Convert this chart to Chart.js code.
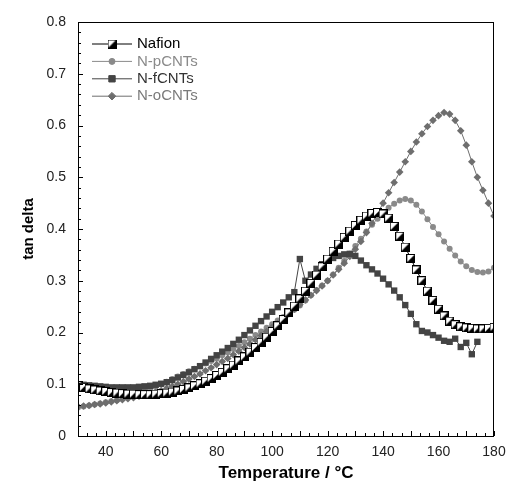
<!DOCTYPE html>
<html>
<head>
<meta charset="utf-8">
<script src="https://cdn.jsdelivr.net/npm/chart.js@4/dist/chart.umd.min.js"></script>
<style>
  html, body { margin: 0; padding: 0; background: #fff; }
  #wrap { width: 506px; height: 487px; }
</style>
</head>
<body>
<div id="wrap"><canvas id="dmaChart" width="506" height="487"></canvas></div>
<script>
// temperatures (°C), shared by all series
const temps = [30, 32, 34, 36, 38, 40, 42, 44, 46, 48, 50, 52, 54, 56, 58, 60, 62, 64, 66, 68,
    70, 72, 74, 76, 78, 80, 82, 84, 86, 88, 90, 92, 94, 96, 98, 100, 102, 104, 106, 108,
    110, 112, 114, 116, 118, 120, 122, 124, 126, 128, 130, 132, 134, 136, 138, 140, 142, 144, 146, 148,
    150, 152, 154, 156, 158, 160, 162, 164, 166, 168, 170, 172, 174, 176, 178, 180];

const nafion = [0.097, 0.094, 0.091, 0.089, 0.087, 0.086, 0.084, 0.083, 0.082, 0.081, 0.081, 0.080, 0.080, 0.080, 0.081, 0.082, 0.083, 0.085, 0.087, 0.090,
    0.093, 0.097, 0.101, 0.106, 0.111, 0.117, 0.123, 0.130, 0.137, 0.145, 0.153, 0.162, 0.171, 0.181, 0.191, 0.202, 0.213, 0.225, 0.238, 0.251,
    0.265, 0.280, 0.295, 0.311, 0.327, 0.342, 0.357, 0.371, 0.384, 0.396, 0.407, 0.417, 0.425, 0.430, 0.432, 0.429, 0.421, 0.405, 0.386, 0.365,
    0.343, 0.321, 0.300, 0.280, 0.262, 0.245, 0.232, 0.222, 0.215, 0.211, 0.209, 0.208, 0.207, 0.207, 0.208, 0.210];

const nPCNT = [0.055, 0.057, 0.059, 0.061, 0.063, 0.065, 0.067, 0.069, 0.072, 0.075, 0.078, 0.082, 0.086, 0.090, 0.095, 0.100, 0.105, 0.110, 0.115, 0.120,
    0.125, 0.130, 0.135, 0.140, 0.145, 0.150, 0.156, 0.162, 0.168, 0.174, 0.181, 0.188, 0.195, 0.202, 0.209, 0.216, 0.223, 0.230, 0.237, 0.244,
    0.252, 0.262, 0.272, 0.282, 0.291, 0.300, 0.312, 0.325, 0.338, 0.352, 0.367, 0.381, 0.395, 0.408, 0.420, 0.431, 0.441, 0.449, 0.455, 0.458,
    0.455, 0.447, 0.434, 0.419, 0.404, 0.390, 0.376, 0.362, 0.349, 0.337, 0.328, 0.321, 0.317, 0.316, 0.318, 0.325];

const nFCNT = [0.100, 0.099, 0.098, 0.097, 0.096, 0.095, 0.094, 0.094, 0.094, 0.094, 0.094, 0.095, 0.096, 0.097, 0.099, 0.101, 0.104, 0.108, 0.113, 0.118,
    0.123, 0.129, 0.135, 0.142, 0.149, 0.156, 0.163, 0.170, 0.178, 0.186, 0.195, 0.204, 0.213, 0.222, 0.231, 0.240, 0.249, 0.258, 0.268, 0.278,
    0.342, 0.300, 0.312, 0.323, 0.332, 0.339, 0.344, 0.348, 0.351, 0.352, 0.348, 0.339, 0.330, 0.322, 0.314, 0.304, 0.293, 0.281, 0.268, 0.253,
    0.236, 0.216, 0.203, 0.200, 0.195, 0.190, 0.184, 0.182, 0.188, 0.172, 0.180, 0.158, 0.182, null, null, null];

const nOCNT = [0.057, 0.058, 0.059, 0.061, 0.062, 0.064, 0.066, 0.068, 0.070, 0.072, 0.074, 0.077, 0.079, 0.082, 0.085, 0.088, 0.092, 0.096, 0.100, 0.105,
    0.110, 0.115, 0.120, 0.126, 0.132, 0.138, 0.144, 0.150, 0.157, 0.164, 0.171, 0.178, 0.186, 0.194, 0.202, 0.210, 0.218, 0.227, 0.236, 0.245,
    0.254, 0.263, 0.272, 0.281, 0.290, 0.300, 0.311, 0.322, 0.334, 0.347, 0.361, 0.376, 0.393, 0.411, 0.430, 0.450, 0.470, 0.490, 0.510, 0.530,
    0.550, 0.568, 0.584, 0.598, 0.610, 0.619, 0.625, 0.622, 0.610, 0.590, 0.562, 0.530, 0.500, 0.475, 0.450, 0.425];

const seriesNames = ['Nafion', 'N-pCNTs', 'N-fCNTs', 'N-oCNTs'];
const xTicks = [40, 60, 80, 100, 120, 140, 160, 180];
const yTicks = [0, 0.1, 0.2, 0.3, 0.4, 0.5, 0.6, 0.7, 0.8];

const FONT = "'Liberation Sans', Arial, sans-serif";

// half filled square used by Nafion
function halfSquare(size) {
    const c = document.createElement('canvas');
    c.width = size; c.height = size;
    const g = c.getContext('2d');
    g.fillStyle = '#fff';
    g.fillRect(0, 0, size, size);
    g.fillStyle = '#000';
    g.beginPath();
    g.moveTo(size, 0);
    g.lineTo(size, size);
    g.lineTo(0, size);
    g.closePath();
    g.fill();
    g.strokeStyle = '#000';
    g.lineWidth = 1;
    g.strokeRect(0.5, 0.5, size - 1, size - 1);
    return c;
}
const nafionMark = halfSquare(9);

function pts(ys) {
    return temps.map((t, i) => ({ x: t, y: ys[i] }));
}

// frame + inward ticks like the original plot
const frameTicks = {
    id: 'frameTicks',
    afterDatasetsDraw(chart) {
        const { ctx, chartArea: a, scales } = chart;
        ctx.save();
        ctx.strokeStyle = '#000';
        ctx.lineWidth = 1;
        ctx.strokeRect(a.left + 0.5, a.top + 0.5, a.right - a.left - 1, a.bottom - a.top);
        ctx.beginPath();
        for (let i = 0; i <= 45; i++) {
            const px = Math.round(scales.x.getPixelForValue(30 + i * 10 / 3)) + 0.5;
            const len = i % 3 === 0 ? 5 : 3;
            ctx.moveTo(px, a.bottom);
            ctx.lineTo(px, a.bottom - len);
        }
        for (let i = 0; i <= 40; i++) {
            const py = Math.round(scales.y.getPixelForValue(i * 0.02)) + 0.5;
            const len = i % 5 === 0 ? 5 : 3;
            ctx.moveTo(a.left, py);
            ctx.lineTo(a.left + len, py);
        }
        ctx.stroke();
        ctx.restore();
    }
};

// legend: short line with marker in the middle
const lineLegend = {
    id: 'lineLegend',
    afterDraw(chart) {
        const { ctx } = chart;
        const textColors = ['#000', '#8a8a8a', '#333', '#7a7a7a'];
        ctx.save();
        ctx.font = '15px ' + FONT;
        ctx.textBaseline = 'middle';
        chart.data.datasets.forEach((ds, i) => {
            const y = 44 + i * 17.4;
            ctx.strokeStyle = ds.borderColor;
            ctx.lineWidth = 1;
            ctx.beginPath();
            ctx.moveTo(92, y);
            ctx.lineTo(132, y);
            ctx.stroke();
            ctx.fillStyle = ds.pointBackgroundColor;
            ctx.strokeStyle = ds.pointBorderColor;
            Chart.helpers.drawPoint(ctx, {
                pointStyle: ds.pointStyle,
                radius: ds.pointRadius,
                rotation: 0,
                borderWidth: 1
            }, 112, y);
            ctx.fillStyle = textColors[i];
            ctx.fillText(ds.label, 137, y);
        });
        ctx.restore();
    }
};

const ctx = document.getElementById('dmaChart').getContext('2d');
new Chart(ctx, {
    type: 'line',
    data: {
        datasets: [
            {
                label: seriesNames[0],
                data: pts(nafion),
                borderColor: '#000',
                borderWidth: 1,
                pointStyle: nafionMark,
                pointRadius: 4.5,
                pointBackgroundColor: '#fff',
                pointBorderColor: '#000',
                order: 0
            },
            {
                label: seriesNames[1],
                data: pts(nPCNT),
                borderColor: '#8a8a8a',
                borderWidth: 1,
                pointStyle: 'circle',
                pointRadius: 3,
                pointBorderWidth: 0,
                pointBackgroundColor: '#8a8a8a',
                pointBorderColor: '#8a8a8a',
                order: 3
            },
            {
                label: seriesNames[2],
                data: pts(nFCNT),
                borderColor: '#444',
                borderWidth: 1,
                pointStyle: 'rect',
                pointRadius: 4.5,
                pointBorderWidth: 0,
                pointBackgroundColor: '#444',
                pointBorderColor: '#444',
                order: 1
            },
            {
                label: seriesNames[3],
                data: pts(nOCNT),
                borderColor: '#6e6e6e',
                borderWidth: 1,
                pointStyle: 'rectRot',
                pointRadius: 3.8,
                pointBorderWidth: 0,
                pointBackgroundColor: '#6e6e6e',
                pointBorderColor: '#6e6e6e',
                order: 2
            }
        ]
    },
    options: {
        responsive: false,
        animation: false,
        spanGaps: false,
        layout: { padding: { top: 22, right: 0, left: 0, bottom: 0 } },
        plugins: {
            legend: { display: false },
            tooltip: { enabled: false }
        },
        scales: {
            x: {
                type: 'linear',
                min: 30,
                max: 180,
                afterBuildTicks: s => { s.ticks = xTicks.map(v => ({ value: v })); },
                afterFit: s => { s.height = 51; s.paddingRight = 12; },
                grid: { display: false, drawTicks: false },
                border: { display: false },
                ticks: {
                    padding: 8,
                    color: '#222',
                    font: { family: FONT, size: 14 },
                    maxRotation: 0
                },
                title: {
                    display: true,
                    text: 'Temperature / °C',
                    color: '#000',
                    font: { family: FONT, size: 17, weight: 'bold' },
                    padding: { top: 0, bottom: 3 }
                }
            },
            y: {
                min: 0,
                max: 0.8,
                afterBuildTicks: s => { s.ticks = yTicks.map(v => ({ value: v })); },
                afterFit: s => { s.width = 78; },
                grid: { display: false, drawTicks: false },
                border: { display: false },
                ticks: {
                    padding: 12,
                    color: '#222',
                    font: { family: FONT, size: 14 },
                    callback: v => String(Math.round(v * 10) / 10)
                },
                title: {
                    display: true,
                    text: 'tan delta',
                    color: '#000',
                    font: { family: FONT, size: 15, weight: 'bold' },
                    padding: { top: 20, bottom: 0 }
                }
            }
        }
    },
    plugins: [frameTicks, lineLegend]
});
</script>
</body>
</html>
